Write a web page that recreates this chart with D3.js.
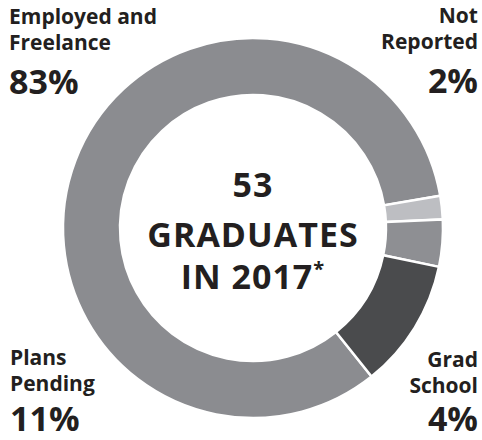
<!DOCTYPE html>
<html>
<head>
<meta charset="utf-8">
<script src="https://cdn.jsdelivr.net/npm/d3@7"></script>
<style>
  html, body { margin: 0; padding: 0; background: #fff; }
  svg { display: block; }
  text { font-family: "Open Sans", "Noto Sans", sans-serif; font-weight: 700; fill: #231f20; }
</style>
</head>
<body>
<svg id="chart" width="482" height="440"></svg>
<script>
const categories = ["Employed and Freelance", "Not Reported", "Grad School", "Plans Pending"];
const values = [83, 2, 4, 11];
const labelLines = [["Employed and", "Freelance"], ["Not", "Reported"], ["Grad", "School"], ["Plans", "Pending"]];
const percentLabels = ["83%", "2%", "4%", "11%"];
const centerLines = ["53", "GRADUATES", "IN 2017"];

const colors = d3.scaleOrdinal().domain(categories)
  .range(["#8b8c90", "#bdbec2", "#8e8f93", "#4a4b4d"]);

const svg = d3.select("#chart");
const cx = 253, cy = 228, R = 190, r = 133;

const startDeg = 141.4;
const pie = d3.pie().sort(null).value(d => d)
  .startAngle(startDeg * Math.PI / 180)
  .endAngle((startDeg + 360) * Math.PI / 180);
const arc = d3.arc().innerRadius(r).outerRadius(R);

const g = svg.append("g").attr("transform", `translate(${cx},${cy})`);
g.selectAll("path").data(pie(values)).join("path")
  .attr("d", arc)
  .attr("fill", (d, i) => colors(categories[i]))
  .attr("stroke", "#fff")
  .attr("stroke-width", 2.5)
  .attr("stroke-linejoin", "miter");

// corner labels
const labelPos = [
  { x: 9, anchor: "start", y: 24, py: 94 },
  { x: 478, anchor: "end", y: 23, py: 93 },
  { x: 478, anchor: "end", y: 367, py: 431 },
  { x: 10, anchor: "start", y: 365, py: 431 }
];
categories.forEach((c, i) => {
  const p = labelPos[i];
  const t = svg.append("text").attr("x", p.x).attr("y", p.y)
    .attr("text-anchor", p.anchor).attr("font-size", 21);
  labelLines[i].forEach((line, j) => {
    t.append("tspan").attr("x", p.x).attr("dy", j === 0 ? 0 : 25.5).text(line);
  });
  svg.append("text").attr("x", p.x).attr("y", p.py)
    .attr("text-anchor", p.anchor).attr("font-size", 34).text(percentLabels[i]);
});

// center text
const cys = [197, 247, 289];
centerLines.forEach((line, i) => {
  const t = svg.append("text").attr("x", cx).attr("y", cys[i])
    .attr("text-anchor", "middle").attr("font-size", 34).attr("letter-spacing", 1);
  t.append("tspan").text(line);
  if (i === 2) {
    t.append("tspan").attr("font-size", 20).attr("dy", -13).text("*");
  }
});
</script>
</body>
</html>
